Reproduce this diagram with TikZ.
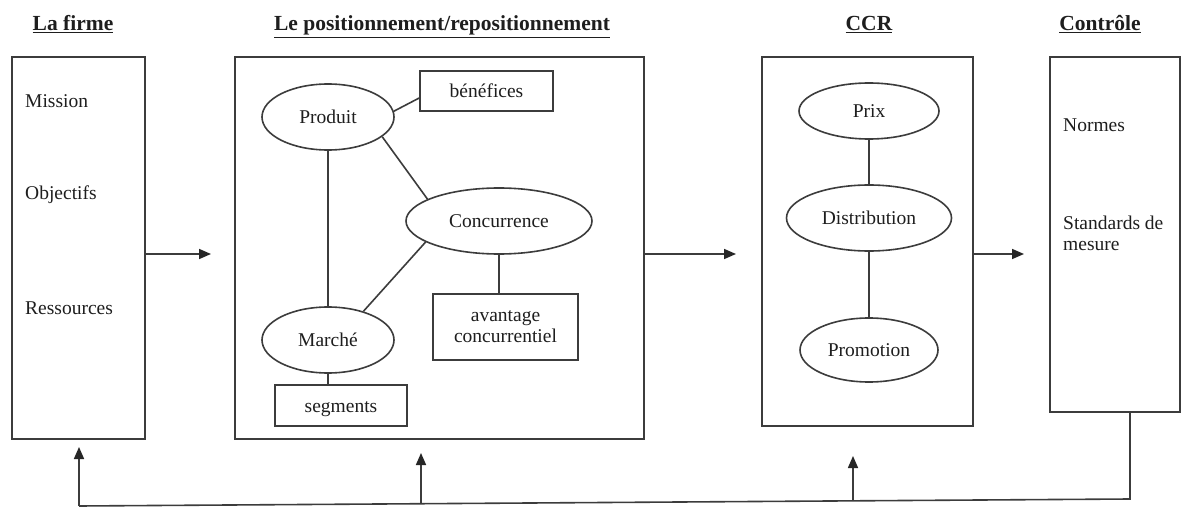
\documentclass[tikz,border=0pt]{standalone}
\usepackage{fontspec}
\setmainfont{Liberation Serif}
\usetikzlibrary{shapes.geometric,arrows.meta}
\definecolor{lc}{RGB}{60,60,60}
\definecolor{tc}{RGB}{30,30,30}
\begin{document}
\begin{tikzpicture}[x=1pt,y=-1pt,
  ln/.style={draw=lc, line width=1.6pt},
  box/.style={ln, rectangle, inner sep=0pt},
  ell/.style={ln, ellipse, inner sep=0pt, text=tc, font=\fontsize{19.5}{22}\selectfont},
  txt/.style={text=tc, font=\fontsize{19.5}{21}\selectfont, inner sep=0pt},
  head/.style={text=tc, font=\bfseries\fontsize{21.5}{24}\selectfont, anchor=base, inner sep=0pt},
  arr/.style={ln, -{Triangle[length=12pt,width=10pt,color=black!85]}},
]
\useasboundingbox (0,0) rectangle (1187,508);
\fill[white] (0,0) rectangle (1187,508);

% headings
\node[head] (h1) at (73,31) {\underline{La firme}};
\node[head] (h2) at (442,31) {\underline{Le positionnement/repositionnement}};
\node[head] (h3) at (869,31) {\underline{CCR}};
\node[head] (h4) at (1100,31) {\underline{Contrôle}};

% main boxes
\node[box, minimum width=133pt, minimum height=382pt] (firm) at (78.5,248) {};
\node[box, minimum width=409pt, minimum height=382pt] (pos) at (439.5,248) {};
\node[box, minimum width=211pt, minimum height=369pt] (ccr) at (867.5,241.5) {};
\node[box, minimum width=130pt, minimum height=355pt] (ctrl) at (1115,234.5) {};

% firm texts
\node[txt, anchor=west] (mis) at (25,101) {Mission};
\node[txt, anchor=west] (obj) at (25,195) {Objectifs};
\node[txt, anchor=west] (res) at (25,308) {Ressources};

% control texts
\node[txt, anchor=west] (nor) at (1063,125) {Normes};
\node[txt, anchor=west, align=left] (std) at (1063,233) {Standards de\\mesure};

% positioning contents
\node[ell, minimum width=132pt, minimum height=66pt] (prod) at (328,117) {Produit};
\node[box, minimum width=133pt, minimum height=40pt, txt] (ben) at (486.5,91) {bénéfices};
\node[ell, minimum width=186pt, minimum height=66pt] (conc) at (499,221) {Concurrence};
\node[ell, minimum width=132pt, minimum height=66pt] (mar) at (328,340) {Marché};
\node[box, minimum width=145pt, minimum height=66pt, txt, align=center] (avan) at (505.5,327) {avantage\\concurrentiel};
\node[box, minimum width=132pt, minimum height=41pt, txt, text height=14pt, text depth=1pt] (seg) at (341,405.5) {segments};

\draw[ln] (prod.5) -- ([yshift=-7pt]ben.west);
\draw[ln] (prod.-20) -- (conc.163);
\draw[ln] (mar.39) -- (conc.196);
\draw[ln] (prod.south) -- (mar.north);
\draw[ln] (conc.south) -- (conc.south |- avan.north);
\draw[ln] (mar.south) -- (mar.south |- seg.north);

% CCR contents
\node[ell, minimum width=140pt, minimum height=56pt] (prix) at (869,111) {Prix};
\node[ell, minimum width=165pt, minimum height=66pt] (dist) at (869,218) {Distribution};
\node[ell, minimum width=138pt, minimum height=64pt] (prom) at (869,350) {Promotion};
\draw[ln] (prix.south) -- (dist.north);
\draw[ln] (dist.south) -- (prom.north);

% forward arrows
\coordinate (a1) at (211,254);
\coordinate (a2) at (736,254);
\coordinate (a3) at (1024,254);
\draw[arr] (firm.east |- a1) -- (a1);
\draw[arr] (pos.east |- a2) -- (a2);
\draw[arr] (ccr.east |- a3) -- (a3);

% feedback loop
\coordinate (fbR) at (1130,499);
\coordinate (fbL) at (79,506);
\coordinate (t1) at (79,447);
\coordinate (m1) at (421,503.7);
\coordinate (t2) at (421,453);
\coordinate (m2) at (853,500.8);
\coordinate (t3) at (853,456);
\draw[ln] (ctrl.south -| fbR) -- (fbR) -- (fbL);
\draw[arr] (fbL) -- (t1);
\draw[arr] (m1) -- (t2);
\draw[arr] (m2) -- (t3);
\end{tikzpicture}
\end{document}
